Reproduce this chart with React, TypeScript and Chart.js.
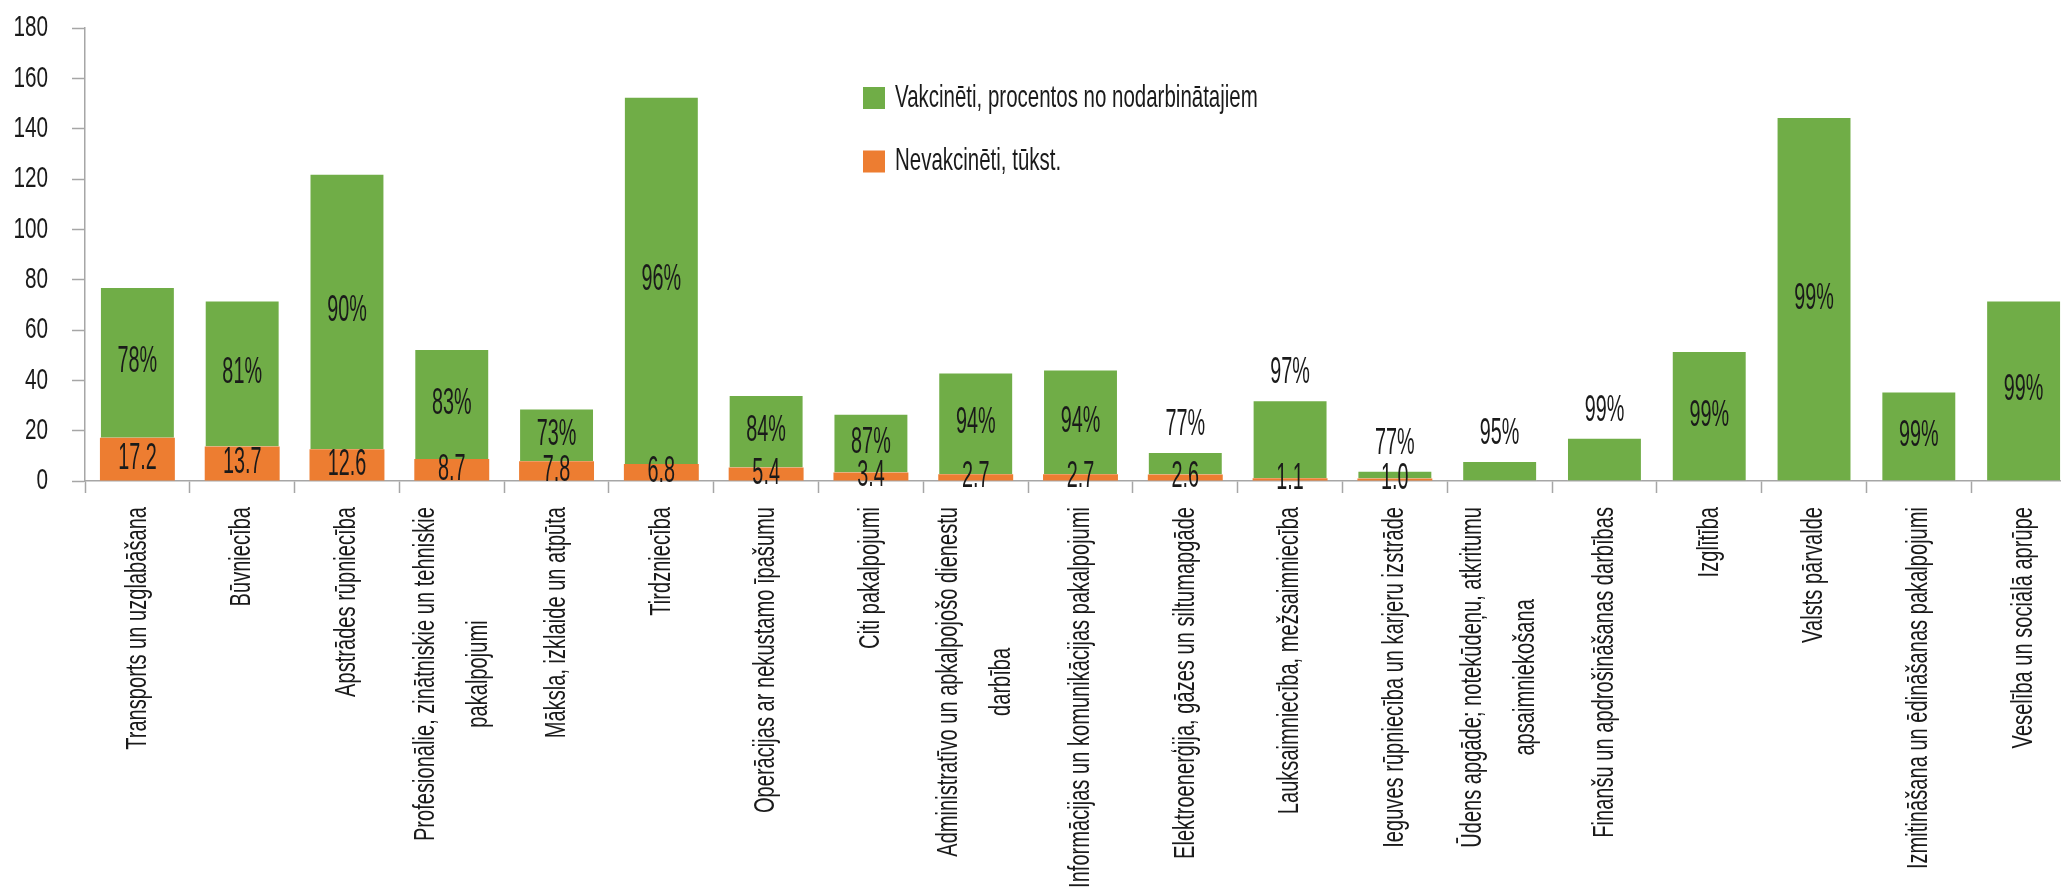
import React, { useEffect, useRef } from "react";
import { Chart, registerables } from "chart.js";

Chart.register(...registerables);

const categories: string[][] = [
  ["Transports un uzglabāšana"],
  ["Būvniecība"],
  ["Apstrādes rūpniecība"],
  ["Profesionālie, zinātniskie un tehniskie", "pakalpojumi"],
  ["Māksla, izklaide un atpūta"],
  ["Tirdzniecība"],
  ["Operācijas ar nekustamo īpašumu"],
  ["Citi pakalpojumi"],
  ["Administratīvo un apkalpojošo dienestu", "darbība"],
  ["Informācijas un komunikācijas pakalpojumi"],
  ["Elektroenerģija, gāzes un siltumapgāde"],
  ["Lauksaimniecība, mežsaimniecība"],
  ["Ieguves rūpniecība un karjeru izstrāde"],
  ["Ūdens apgāde; notekūdeņu, atkritumu", "apsaimniekošana"],
  ["Finanšu un apdrošināšanas darbības"],
  ["Izglītība"],
  ["Valsts pārvalde"],
  ["Izmitināšana un ēdināšanas pakalpojumi"],
  ["Veselība un sociālā aprūpe"],
];

// Unvaccinated, thousands (orange, bottom segment)
const unvaccinated: number[] = [
  17.2, 13.7, 12.6, 8.7, 7.8, 6.8, 5.4, 3.4, 2.7, 2.7, 2.6, 1.1, 1.0, 0, 0, -0.6, -0.6, -0.6, -0.6,
];

// Vaccinated, thousands (green, top segment)
const vaccinated: number[] = [
  59.9, 58.0, 109.5, 43.8, 21.0, 145.9, 28.8, 23.3, 40.4, 41.6, 8.9, 31.0, 3.1, 7.9, 17.2, 51.7, 144.6, 35.6, 71.7,
];

// Vaccinated share of employees, %
const vaccinatedPercent: number[] = [
  78, 81, 90, 83, 73, 96, 84, 87, 94, 94, 77, 97, 77, 95, 99, 99, 99, 99, 99,
];

// Whether the percentage label sits above the bar
const percentAbove: boolean[] = [
  false, false, false, false, false, false, false, false, false, false,
  true, true, true, true, true, false, false, false, false,
];

const legendLabels: string[] = ["Vakcinēti, procentos no nodarbinātajiem", "Nevakcinēti, tūkst."];

const Y_MIN = 0;
const Y_MAX = 180;
const Y_STEP = 20;

const GREEN = "#70AD47";
const ORANGE = "#ED7D31";
const AXIS = "#a6a6a6";
const TEXT = "#1a1a1a";
const FONT = '"Liberation Sans", Arial, sans-serif';

function drawText(
  ctx: CanvasRenderingContext2D,
  text: string,
  x: number,
  y: number,
  size: number,
  sx: number,
  align: CanvasTextAlign,
  rotate = false
) {
  ctx.save();
  ctx.translate(x, y);
  if (rotate) ctx.rotate(-Math.PI / 2);
  ctx.scale(sx, 1);
  ctx.font = `${size}px ${FONT}`;
  ctx.fillStyle = TEXT;
  ctx.textAlign = align;
  ctx.textBaseline = "middle";
  ctx.fillText(text, 0, 0);
  ctx.restore();
}

const textPlugin = {
  id: "condensedText",
  afterDraw(chart: any) {
    const ctx: CanvasRenderingContext2D = chart.ctx;
    const area = chart.chartArea;
    const yScale = chart.scales.y;
    const xScale = chart.scales.x;

    // Y tick labels
    yScale.ticks.forEach((t: any) => {
      const py = yScale.getPixelForValue(t.value);
      drawText(ctx, String(t.value), area.left - 37, py, 30, 0.69, "right");
    });

    // Category labels (rotated)
    const labelSize = 30;
    const labelSx = 0.67;
    const lineGap = 53;
    const topY = area.bottom + 26;
    categories.forEach((lines, i) => {
      const cx = xScale.getPixelForValue(i);
      ctx.save();
      ctx.font = `${labelSize}px ${FONT}`;
      const maxW = Math.max(...lines.map((l) => ctx.measureText(l).width)) * labelSx;
      ctx.restore();
      const centerY = topY + maxW / 2;
      lines.forEach((line, j) => {
        const lx = cx + (j - (lines.length - 1) / 2) * lineGap;
        drawText(ctx, line, lx, centerY, labelSize, labelSx, "center", true);
      });
    });

    // Data labels
    const metaOrange = chart.getDatasetMeta(0);
    const metaGreen = chart.getDatasetMeta(1);
    unvaccinated.forEach((v, i) => {
      if (v <= 0) return;
      const el = metaOrange.data[i];
      const { x, y, base } = el.getProps(["x", "y", "base"], true);
      drawText(ctx, v.toFixed(1), x, (y + base) / 2, 36, 0.55, "center");
    });
    vaccinatedPercent.forEach((p, i) => {
      const el = metaGreen.data[i];
      const { x, y, base } = el.getProps(["x", "y", "base"], true);
      const ly = percentAbove[i] ? y - 27 : (y + base) / 2;
      drawText(ctx, `${p}%`, x, ly, 36, 0.55, "center");
    });

    // Legend
    const legendColors = [GREEN, ORANGE];
    const lx = 863;
    const lyStart = 98;
    const lyGap = 63.5;
    legendLabels.forEach((label, i) => {
      const cy = lyStart + i * lyGap;
      ctx.save();
      ctx.fillStyle = legendColors[i];
      ctx.fillRect(lx, cy - 11, 22, 22);
      ctx.restore();
      drawText(ctx, label, lx + 32, cy, 32, 0.64, "left");
    });
  },
};

export default function App() {
  const canvasRef = useRef<HTMLCanvasElement | null>(null);

  useEffect(() => {
    document.body.style.margin = "0";
    const canvas = canvasRef.current;
    if (!canvas) return;
    const chart = new Chart(canvas, {
      type: "bar",
      data: {
        labels: categories.map((c) => c.join(" ")),
        datasets: [
          {
            label: legendLabels[1],
            data: unvaccinated,
            backgroundColor: ORANGE,
            borderColor: "rgba(255,255,255,0.35)",
            borderWidth: 0,
            barPercentage: 0.715,
            categoryPercentage: 1,
          },
          {
            label: legendLabels[0],
            data: vaccinated,
            backgroundColor: GREEN,
            borderColor: "rgba(255,255,255,0.35)",
            borderWidth: { top: 1, left: 1, right: 1, bottom: 0 } as any,
            barPercentage: 0.715,
            categoryPercentage: 1,
          },
        ],
      },
      options: {
        animation: false,
        responsive: false,
        maintainAspectRatio: false,
        devicePixelRatio: 1,
        layout: { padding: { left: 72, right: 4, top: 28, bottom: 401 } },
        plugins: {
          legend: { display: false },
          tooltip: { enabled: false },
          title: { display: false },
        },
        scales: {
          x: {
            stacked: true,
            offset: true,
            grid: {
              display: true,
              drawOnChartArea: false,
              drawTicks: true,
              tickLength: 12,
              tickColor: AXIS,
              tickWidth: 1.5,
              offset: true,
            },
            border: { display: true, color: AXIS, width: 1.5 },
            ticks: { display: false },
          },
          y: {
            stacked: true,
            min: Y_MIN,
            max: Y_MAX,
            grid: {
              display: true,
              drawOnChartArea: false,
              drawTicks: true,
              tickLength: 13,
              tickColor: AXIS,
              tickWidth: 1.5,
            },
            border: { display: true, color: AXIS, width: 1.5 },
            ticks: { display: false, stepSize: Y_STEP },
          },
        },
      },
      plugins: [textPlugin],
    });
    return () => chart.destroy();
  }, []);

  return (
    <div style={{ position: "fixed", left: 0, top: 0, width: 2080, height: 894, background: "#fff" }}>
      <canvas ref={canvasRef} width={2080} height={894} style={{ display: "block" }} />
    </div>
  );
}
